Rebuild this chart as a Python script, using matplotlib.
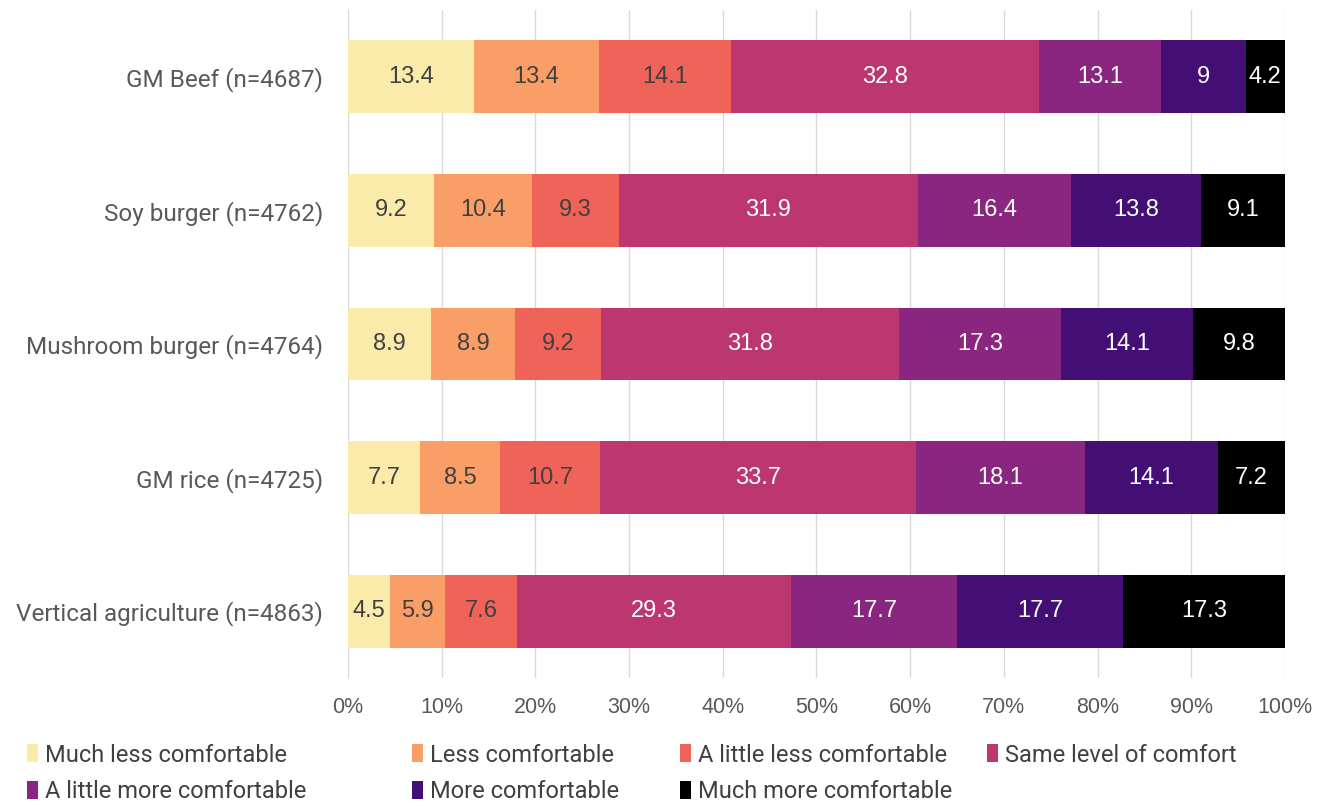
import matplotlib
matplotlib.use("Agg")
import matplotlib.pyplot as plt
from matplotlib.ticker import FuncFormatter

categories = ["GM Beef (n=4687)", "Soy burger (n=4762)", "Mushroom burger (n=4764)",
              "GM rice (n=4725)", "Vertical agriculture (n=4863)"]
series_names = ["Much less comfortable", "Less comfortable", "A little less comfortable",
                "Same level of comfort", "A little more comfortable", "More comfortable",
                "Much more comfortable"]
much_less = [13.4, 9.2, 8.9, 7.7, 4.5]
less = [13.4, 10.4, 8.9, 8.5, 5.9]
little_less = [14.1, 9.3, 9.2, 10.7, 7.6]
same = [32.8, 31.9, 31.8, 33.7, 29.3]
little_more = [13.1, 16.4, 17.3, 18.1, 17.7]
more = [9, 13.8, 14.1, 14.1, 17.7]
much_more = [4.2, 9.1, 9.8, 7.2, 17.3]
series = [much_less, less, little_less, same, little_more, more, much_more]
colors = ["#FBEBAA", "#FA9E68", "#F06358", "#BC3670", "#8A2680", "#430F75", "#000000"]
label_colors = ["#404040", "#404040", "#404040", "white", "white", "white", "white"]

plt.rcParams['font.family'] = ['Liberation Sans', 'DejaVu Sans']
fig = plt.figure(figsize=(13.25, 8.06), dpi=100)
ax = fig.add_axes([0.2626, 0.1588, 0.7072, 0.8288])

ypos = list(range(len(categories)))
left = [0.0] * len(categories)
containers = []
for name, vals, c, lc in zip(series_names, series, colors, label_colors):
    bc = ax.barh(ypos, vals, left=left, height=0.545, color=c, label=name, zorder=3)
    containers.append(bc)
    ax.bar_label(bc, labels=[f"{v:g}" for v in vals], label_type='center',
                 color=lc, fontsize=17)
    left = [l + v for l, v in zip(left, vals)]

ax.set_ylim(4.5, -0.5)
ax.set_xlim(0, 100)
ax.set_xticks(range(0, 101, 10))
ax.xaxis.set_major_formatter(FuncFormatter(lambda x, p: f"{x:.0f}%"))
ax.set_yticks(ypos)
ax.set_yticklabels(categories, fontsize=17.5, color="#595959", family=['Roboto', 'DejaVu Sans'])
ax.tick_params(axis='x', labelsize=15.5, colors="#595959", length=0, pad=14)
ax.tick_params(axis='y', length=0, pad=18)
ax.grid(axis='x', color="#D9D9D9", linewidth=1, zorder=0)
for s in ax.spines.values():
    s.set_visible(False)

# legend entries placed like the reference
positions = [(30, 755), (415, 755), (683, 755), (990, 755),
             (30, 792), (415, 792), (683, 792)]
W, H = 1325, 806
for bc, name, (px, py) in zip(containers, series_names, positions):
    lg = fig.legend([bc], [name], loc='center left',
                    bbox_to_anchor=(px / W - 0.002, 1 - py / H), frameon=False,
                    prop={'family': ['Roboto', 'DejaVu Sans'], 'size': 17},
                    handlelength=0.45, handleheight=0.8,
                    handletextpad=0.3, borderpad=0, borderaxespad=0)
    for t in lg.get_texts():
        t.set_color("#404040")

fig.savefig("out.png", dpi=100)
